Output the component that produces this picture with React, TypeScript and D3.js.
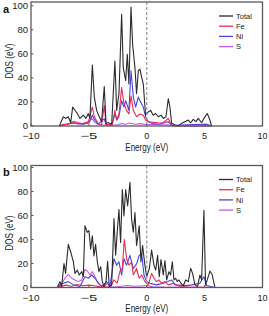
import React from "react";
import * as d3 from "d3";

type Pt = [number, number];

// Panel a — [energy (eV), DOS]
const totalA: Pt[] = [
  [-7.55, 0], [-7.21, 7.7], [-7.01, 6.3], [-6.78, 7.7], [-6.57, 2.7], [-6.4, 15.8], [-6.2, 13.1], [-6.0, 10.4],
  [-5.77, 6.3], [-5.48, 9], [-5.25, 6.3], [-5.05, 10.4], [-4.91, 6.3], [-4.7, 50.8], [-4.53, 24], [-4.33, 13],
  [-4.1, 7.7], [-3.9, 3.6], [-3.67, 32.8], [-3.52, 2.2], [-3.32, 2.7], [-3.03, 1.6], [-2.75, 54], [-2.6, 13],
  [-2.4, 26.8], [-2.17, 93], [-2.03, 48.6], [-1.82, 37.7], [-1.68, 59.6], [-1.54, 35], [-1.36, 99], [-1.22, 67.8],
  [-1.02, 48.6], [-0.88, 26.8], [-0.73, 46], [-0.59, 47.3], [-0.44, 40.4], [-0.3, 35], [-0.1, 9], [0.13, 11.7],
  [0.33, 13], [0.56, 9], [0.77, 10.4], [1.0, 7.7], [1.23, 9], [1.43, 6.3], [1.66, 7.7], [1.86, 22.7], [2.0, 15.8],
  [2.15, 2.2], [2.44, 0.8], [2.72, 0], [3.01, 2.2], [3.3, 3.6], [3.59, 4.9], [3.79, 2.7], [4.02, 5.5], [4.25, 3.6],
  [4.45, 6.3], [4.74, 2.7], [4.94, 6.3], [5.23, 10.4], [5.46, 4.9], [5.6, 0],
];
const feA: Pt[] = [
  [-7.55, 0], [-7.2, 1.5], [-6.9, 1], [-6.4, 3], [-6.0, 2], [-5.5, 2], [-5.05, 3], [-4.7, 16], [-4.53, 7.7], [-4.2, 2],
  [-3.9, 1], [-3.67, 17], [-3.52, 1], [-3.0, 1], [-2.75, 13], [-2.6, 5], [-2.4, 10], [-2.17, 32], [-1.97, 18.6],
  [-1.75, 13], [-1.54, 10], [-1.36, 25], [-1.16, 13], [-0.88, 7.7], [-0.59, 10], [-0.3, 9], [-0.1, 5], [0.2, 3.6],
  [0.6, 3], [1.0, 2.7], [1.4, 2.5], [1.86, 6.3], [2.15, 0.8], [2.5, 0], [5.6, 0],
];
const niA: Pt[] = [
  [-7.55, 0], [-7.0, 1.5], [-6.4, 2.5], [-6.0, 2], [-5.5, 1.5], [-5.0, 2.5], [-4.7, 9], [-4.5, 5], [-4.2, 1.5],
  [-3.67, 6], [-3.52, 1], [-3.0, 1], [-2.75, 10], [-2.57, 5], [-2.4, 8], [-2.17, 21], [-1.97, 15.8], [-1.82, 21],
  [-1.54, 13], [-1.36, 46], [-1.16, 24], [-0.96, 15.8], [-0.73, 24], [-0.59, 21], [-0.3, 15.8], [-0.1, 7.7],
  [0.13, 3.6], [0.5, 2], [1.0, 1.5], [1.86, 3.6], [2.15, 0.5], [3.0, 0.8], [4.0, 1.2], [5.2, 1.5], [5.6, 0],
];
const sA: Pt[] = [
  [-7.55, 0], [-7.0, 1], [-6.6, 2.5], [-6.3, 4], [-6.0, 3], [-5.6, 2], [-5.2, 3], [-4.7, 6], [-4.5, 3], [-4.0, 1],
  [-3.5, 0.8], [-3.0, 0.6], [-2.5, 1], [-2.2, 2], [-1.8, 1.5], [-1.5, 2.5], [-1.0, 1.5], [-0.5, 2], [0, 1],
  [0.5, 1.5], [1.0, 1], [1.8, 1], [2.3, 0], [5.6, 0],
];

// Panel b — [energy (eV), DOS]
const totalB: Pt[] = [
  [-7.73, 0], [-7.5, 4.9], [-7.35, 0.8], [-7.15, 20], [-7.01, 11.8], [-6.78, 35.9], [-6.57, 29.6], [-6.34, 21.4],
  [-6.2, 11.8], [-6.0, 14.5], [-5.83, 10.4], [-5.62, 13.2], [-5.48, 9], [-5.34, 51.5], [-5.14, 46], [-4.99, 47.4],
  [-4.85, 32], [-4.7, 43], [-4.56, 26.3], [-4.42, 36], [-4.27, 21.4], [-4.13, 13.2], [-3.98, 17.3], [-3.84, 4.9],
  [-3.7, 0.8], [-3.52, 4.9], [-3.38, 21.9], [-3.24, 0.8], [-3.03, 2.2], [-2.83, 57.5], [-2.69, 27], [-2.55, 46],
  [-2.4, 65], [-2.26, 37.5], [-2.11, 81.6], [-1.97, 59.7], [-1.82, 81.6], [-1.65, 68], [-1.45, 87.7], [-1.31, 57],
  [-1.16, 46], [-1.02, 62.5], [-0.88, 35], [-0.65, 51.5], [-0.5, 21.4], [-0.36, 35], [-0.16, 18.6], [-0.01, 9],
  [0.22, 15.6], [0.42, 31.2], [0.62, 18.6], [0.77, 14.5], [0.94, 26.8], [1.08, 9], [1.23, 23.3], [1.43, 10.4],
  [1.57, 22.5], [1.72, 6.3], [1.92, 13.2], [2.06, 10.4], [2.21, 21.4], [2.35, 6.3], [2.49, 7.7], [2.64, 4.9],
  [2.78, 6.3], [2.95, 3.6], [3.16, 1.4], [3.36, 6.3], [3.59, 4.9], [3.79, 16], [3.96, 11.8], [4.16, 2.2],
  [4.39, 0.8], [4.59, 10.4], [4.74, 6.3], [4.94, 64.4], [5.08, 2.2], [5.23, 6.3], [5.46, 13.7], [5.66, 10.4], [5.89, 0],
];
const feB: Pt[] = [
  [-7.7, 0], [-7.0, 2], [-6.5, 1], [-6.0, 2.5], [-5.5, 1.5], [-5.0, 2], [-4.5, 1.5], [-4.0, 0.5], [-3.7, 0.8],
  [-3.4, 3.6], [-3.1, 1], [-2.83, 6.3], [-2.55, 3.6], [-2.33, 13.2], [-2.11, 16], [-1.94, 40], [-1.74, 24],
  [-1.54, 18.6], [-1.31, 21], [-1.16, 10.4], [-0.88, 15.8], [-0.65, 7.7], [-0.44, 10.4], [-0.16, 4.9], [0.13, 2.2],
  [0.42, 11.8], [0.62, 7.7], [0.85, 4.9], [1.05, 6.3], [1.28, 3.6], [1.57, 4.9], [1.86, 2.2], [2.3, 3.6],
  [2.87, 0.8], [3.5, 0.3], [5.9, 0],
];
const niB: Pt[] = [
  [-7.7, 0], [-7.5, 2.2], [-7.21, 3.6], [-6.78, 4.9], [-6.34, 2.2], [-5.77, 0.8], [-5.34, 9], [-5.05, 7.7],
  [-4.76, 10.4], [-4.47, 7.7], [-4.18, 3.6], [-3.9, 0.8], [-3.47, 4.9], [-3.18, 0.8], [-2.83, 24], [-2.6, 18.6],
  [-2.4, 21.4], [-2.17, 10.4], [-1.97, 24], [-1.74, 18.6], [-1.45, 26.8], [-1.16, 15.8], [-0.88, 19.7],
  [-0.65, 26.8], [-0.44, 28.2], [-0.24, 10.4], [-0.01, 4.9], [0.27, 3.6], [0.85, 2.2], [1.43, 3.6], [2.15, 6.3],
  [2.44, 2.2], [3.44, 1.6], [3.9, 2.2], [4.59, 3.6], [4.94, 9], [5.17, 1.6], [5.9, 0],
];
const sB: Pt[] = [
  [-7.7, 0], [-7.5, 0.8], [-7.07, 7.7], [-6.78, 11], [-6.49, 7.7], [-6.2, 6.3], [-5.91, 4.9], [-5.62, 6.3],
  [-5.34, 15], [-5.14, 13.7], [-4.91, 10.4], [-4.7, 13.2], [-4.47, 9], [-4.27, 4.9], [-4.04, 2.2], [-3.75, 0.8],
  [-3.18, 0.3], [-2.5, 0.6], [-1.74, 1.6], [-1.0, 1], [-0.44, 1.3], [-0.01, 1.6], [0.5, 0.6], [1.5, 0.3], [5.9, 0],
];

const seriesNames = ["Total", "Fe", "Ni", "S"];
const seriesColors = ["#2b2b2b", "#ee2a55", "#4646e0", "#c85ae6"];
const xTicks = [-10, -5, 0, 5, 10];
const yTicks = [0, 20, 40, 60, 80, 100];

const FONT = "Liberation Sans, Arial, sans-serif";

function Panel({ label, data, top, bottom, yTop, titleY }: { label: string; data: Pt[][]; top: number; bottom: number; yTop: number; titleY: number }) {
  const x = d3.scaleLinear().domain([-10, 10]).range([31, 262.5]);
  const y = d3.scaleLinear().domain([0, 100]).range([bottom, yTop]);
  const line = d3.line<Pt>().x((d) => x(d[0])).y((d) => y(d[1]));
  const frame = "#5a5a5a";
  return (
    <g>
      {[3, 2, 1, 0].map((i) => (
        <path key={i} d={line(data[i]) || ""} fill="none" stroke={seriesColors[i]} strokeWidth={1.1} strokeLinejoin="round" />
      ))}
      <line x1={x(0)} x2={x(0)} y1={top} y2={bottom} stroke="#8c9aa0" strokeWidth={1.2} strokeDasharray="3,2" />
      <rect x={x(-10)} y={top} width={x(10) - x(-10)} height={bottom - top} fill="none" stroke={frame} strokeWidth={1.3} />
      {yTicks.map((t) => (
        <g key={t}>
          <line x1={x(-10)} x2={x(-10) + 2.5} y1={y(t)} y2={y(t)} stroke={frame} strokeWidth={1} />
          <text x={28} y={y(t)} dy="0.32em" textAnchor="end" fontSize={9.5} fontFamily={FONT} fill="#222">{t}</text>
        </g>
      ))}
      {xTicks.map((t) => (
        <g key={t}>
          <line x1={x(t)} x2={x(t)} y1={bottom} y2={bottom - 2.5} stroke={frame} strokeWidth={1} />
          <text x={x(t)} y={bottom + 13} textAnchor="middle" fontSize={9} fontFamily={FONT} fill="#222" textLength={t < 0 ? 17 : undefined} lengthAdjust="spacingAndGlyphs">
            {t < 0 ? "\u2212" + Math.abs(t) : t}
          </text>
        </g>
      ))}
      <text x={x(0)} y={bottom + 24.5} textAnchor="middle" fontSize={10} fontFamily={FONT} fill="#222" textLength={43} lengthAdjust="spacingAndGlyphs">Energy (eV)</text>
      <text transform={`translate(12.5,${titleY}) rotate(-90)`} textAnchor="middle" fontSize={10} fontFamily={FONT} fill="#222" textLength={35} lengthAdjust="spacingAndGlyphs">DOS (eV)</text>
      <text x={3} y={top + 10.5} fontSize={11} fontWeight="bold" fontFamily={FONT} fill="#111">{label}</text>
      {seriesNames.map((n, i) => (
        <g key={n}>
          <line x1={219} x2={233} y1={top + 14 + i * 10.2} y2={top + 14 + i * 10.2} stroke={seriesColors[i]} strokeWidth={1.3} />
          <text x={236} y={top + 14 + i * 10.2} dy="0.35em" fontSize={7.5} fontFamily={FONT} fill="#222">{n}</text>
        </g>
      ))}
    </g>
  );
}

export default function App() {
  return (
    <svg width={269} height={316} style={{ position: "absolute", left: 0, top: 0, background: "#fff" }}>
      <Panel label="a" data={[totalA, feA, niA, sA]} top={2} bottom={126} yTop={5.8} titleY={61} />
      <Panel label="b" data={[totalB, feB, niB, sB]} top={165.5} bottom={287.5} yTop={167.5} titleY={233} />
    </svg>
  );
}
